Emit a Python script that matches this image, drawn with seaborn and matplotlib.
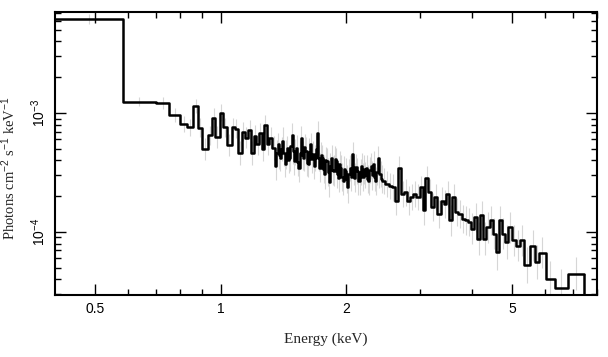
import numpy as np
import pandas as pd
import matplotlib
matplotlib.use("Agg")
import matplotlib.pyplot as plt
import matplotlib.ticker as mticker
import seaborn as sns

# --- spectrum data ---
# bin edges in keV
edges = [0.400, 0.582, 0.699, 0.753, 0.798, 0.830, 0.857, 0.883, 0.902, 0.934,
         0.954, 0.968, 0.994, 1.011, 1.033, 1.062, 1.080, 1.101, 1.125, 1.142,
         1.162, 1.182, 1.200, 1.218, 1.234, 1.253, 1.272, 1.288, 1.307, 1.327,
         1.350,
         1.359, 1.368, 1.377, 1.386, 1.395, 1.404, 1.413, 1.422, 1.431, 1.440,
         1.450, 1.459, 1.468, 1.478, 1.487, 1.497, 1.506, 1.516, 1.526, 1.536,
         1.546, 1.556, 1.566, 1.576, 1.586, 1.596, 1.606, 1.617, 1.627, 1.638,
         1.648, 1.659, 1.670, 1.681, 1.691, 1.702, 1.713, 1.725, 1.736, 1.747,
         1.758, 1.770, 1.781, 1.792, 1.804, 1.816, 1.827, 1.839, 1.851, 1.863,
         1.875, 1.887, 1.899, 1.911, 1.923, 1.936, 1.948, 1.961, 1.974, 1.987,
         2.000, 2.012, 2.025, 2.039, 2.052, 2.065, 2.078, 2.092, 2.105, 2.119,
         2.132, 2.146, 2.160, 2.174, 2.188, 2.203, 2.217, 2.231, 2.245, 2.260,
         2.274, 2.289, 2.304, 2.319, 2.334, 2.349, 2.364, 2.379, 2.394, 2.410,
         2.426, 2.442,
         2.484, 2.527, 2.571, 2.615, 2.661, 2.707, 2.754, 2.802, 2.850, 2.900,
         2.949, 3.001, 3.052, 3.092, 3.145, 3.200, 3.255, 3.311, 3.369, 3.427,
         3.471, 3.532, 3.593, 3.655, 3.718, 3.783, 3.848, 3.915, 3.983, 4.052,
         4.122, 4.193, 4.266, 4.340, 4.415, 4.491, 4.569, 4.648, 4.728, 4.810,
         4.894, 5.000, 5.109, 5.219, 5.356, 5.519, 5.688, 5.800, 6.020, 6.330,
         6.800, 7.437]

# photons cm^-2 s^-1 keV^-1, one per bin
flux = [6.19e-3, 1.25e-3, 1.21e-3, 9.7e-4, 8.1e-4, 7.6e-4, 1.14e-3, 7.5e-4, 5.0e-4, 6.5e-4,
        9.1e-4, 6.3e-4, 1.01e-3, 7.6e-4, 5.4e-4, 7.6e-4, 7.4e-4, 4.64e-4, 7.0e-4, 6.2e-4,
        7.26e-4, 4.64e-4, 6.4e-4, 5.45e-4, 6.8e-4, 4.95e-4, 8.0e-4, 5.45e-4, 6.2e-4, 5.1e-4,
        # dense part 1.35 - 2.44 keV
        3.59e-4, 4.6e-4, 5.45e-4, 4.4e-4, 4.22e-4, 5.0e-4, 5.8e-4, 4.6e-4, 3.71e-4, 4.5e-4,
        5.1e-4, 4.0e-4, 4.22e-4, 5.3e-4, 6.6e-4, 4.8e-4, 3.96e-4, 4.7e-4, 5.1e-4, 3.9e-4,
        3.48e-4, 4.6e-4, 6.2e-4, 4.4e-4, 4.22e-4, 5.2e-4, 4.79e-4, 3.8e-4, 3.71e-4, 4.7e-4,
        5.45e-4, 4.1e-4, 4.5e-4, 3.6e-4, 4.22e-4, 5.0e-4, 6.8e-4, 4.2e-4, 3.48e-4, 4.4e-4,
        4.22e-4, 3.4e-4, 3.06e-4, 4.0e-4, 3.96e-4, 3.2e-4, 2.61e-4, 3.6e-4, 4.22e-4, 3.3e-4,
        3.27e-4, 4.1e-4, 3.96e-4, 3.1e-4, 2.87e-4, 3.7e-4, 3.48e-4, 2.9e-4, 2.69e-4, 3.4e-4,
        3.27e-4, 2.8e-4, 2.37e-4, 3.1e-4, 3.48e-4, 2.9e-4, 4.5e-4, 3.3e-4, 2.87e-4, 3.5e-4,
        3.27e-4, 2.7e-4, 2.69e-4, 3.2e-4, 3.59e-4, 2.9e-4, 3.37e-4, 3.0e-4, 3.48e-4, 2.8e-4,
        2.69e-4, 3.3e-4, 3.59e-4, 3.0e-4, 3.71e-4, 2.9e-4, 2.69e-4, 3.2e-4, 4.22e-4, 3.1e-4,
        3.06e-4, 2.8e-4,
        # 2.44 keV upward
        2.69e-4, 2.53e-4, 2.45e-4, 2.37e-4, 1.84e-4, 3.48e-4, 2.09e-4, 2.15e-4, 1.84e-4, 1.96e-4,
        2.09e-4, 1.96e-4, 2.37e-4, 1.52e-4, 2.87e-4, 2.15e-4, 1.62e-4, 1.96e-4, 1.42e-4, 1.84e-4,
        1.72e-4, 2.09e-4, 1.25e-4, 1.96e-4, 1.47e-4, 1.42e-4, 1.29e-4, 1.25e-4, 1.21e-4, 1.07e-4,
        1.33e-4, 8.8e-5, 1.38e-4, 8.8e-5, 1.10e-4, 1.25e-4, 9.7e-5, 6.8e-5, 1.25e-4, 9.7e-5,
        8.25e-5, 1.10e-4, 8.5e-5, 7.7e-5, 8.5e-5, 5.3e-5, 7.7e-5, 5.6e-5, 6.7e-5, 4.05e-5,
        3.35e-5, 4.45e-5]

# error bar half-length in dex, one per bin
err_dex = [0.04, 0.04, 0.05, 0.06, 0.07, 0.07, 0.06, 0.08, 0.09, 0.08,
           0.08, 0.09, 0.07, 0.08, 0.09, 0.08, 0.08, 0.10, 0.08, 0.09,
           0.08, 0.10, 0.09, 0.09, 0.08, 0.10, 0.08, 0.09, 0.09, 0.10,
           0.12, 0.11, 0.10, 0.11, 0.11, 0.10, 0.12, 0.11, 0.11, 0.12,
           0.10, 0.11, 0.11, 0.10, 0.10, 0.11, 0.12, 0.11, 0.11, 0.12,
           0.12, 0.10, 0.10, 0.12, 0.11, 0.11, 0.12, 0.11, 0.11, 0.12,
           0.10, 0.12, 0.11, 0.11, 0.11, 0.12, 0.10, 0.11, 0.12, 0.11,
           0.11, 0.12, 0.12, 0.11, 0.11, 0.12, 0.12, 0.11, 0.11, 0.12,
           0.13, 0.11, 0.11, 0.12, 0.12, 0.11, 0.11, 0.12, 0.12, 0.11,
           0.11, 0.12, 0.13, 0.12, 0.11, 0.12, 0.10, 0.12, 0.12, 0.11,
           0.11, 0.12, 0.12, 0.11, 0.11, 0.12, 0.12, 0.11, 0.11, 0.12,
           0.12, 0.11, 0.11, 0.12, 0.11, 0.12, 0.12, 0.11, 0.10, 0.12,
           0.11, 0.12,
           0.11, 0.11, 0.11, 0.11, 0.12, 0.10, 0.11, 0.11, 0.12, 0.11,
           0.11, 0.11, 0.10, 0.12, 0.10, 0.11, 0.12, 0.11, 0.12, 0.11,
           0.12, 0.11, 0.13, 0.11, 0.12, 0.12, 0.12, 0.12, 0.12, 0.13,
           0.12, 0.14, 0.12, 0.14, 0.13, 0.12, 0.13, 0.15, 0.12, 0.13,
           0.14, 0.13, 0.13, 0.13, 0.13, 0.15, 0.13, 0.14, 0.13, 0.15,
           0.16, 0.14]

x_major = [0.5, 1, 2, 5]
x_major_labels = ["0.5", "1", "2", "5"]
x_minor = [0.6, 0.7, 0.8, 0.9, 3, 4, 6, 7, 8]

sns.set_theme(style="ticks")
plt.rcParams["font.family"] = ["Liberation Sans", "DejaVu Sans"]
plt.rcParams["mathtext.fontset"] = "custom"
plt.rcParams["mathtext.rm"] = "Liberation Sans"
plt.rcParams["mathtext.it"] = "Liberation Sans:italic"

fig = plt.figure(figsize=(6.08, 3.57), dpi=100)
ax = fig.add_axes([0.0905, 0.174, 0.8915, 0.792])

# error bars at bin centres (light grey)
edges_a = np.array(edges)
flux_a = np.array(flux)
err_a = np.array(err_dex)
centres = np.sqrt(edges_a[:-1] * edges_a[1:])
ax.vlines(centres, flux_a / 10 ** err_a, flux_a * 10 ** err_a,
          color="#d6d6d6", lw=0.8, zorder=1)

# step spectrum
df = pd.DataFrame({"energy": edges, "flux": flux + [flux[-1]]})
sns.lineplot(data=df, x="energy", y="flux", drawstyle="steps-post",
             estimator=None, sort=False, color="black", lw=1.8, ax=ax, zorder=3)
ax.vlines(edges[-1], 1e-6, flux[-1], color="black", lw=1.8, zorder=3)

ax.set_xscale("log")
ax.set_yscale("log")
ax.set_xlim(0.4, 8.0)
ax.set_ylim(2.96e-5, 7.06e-3)

ax.xaxis.set_major_locator(mticker.FixedLocator(x_major))
ax.xaxis.set_major_formatter(mticker.FixedFormatter(x_major_labels))
ax.xaxis.set_minor_locator(mticker.FixedLocator(x_minor))
ax.xaxis.set_minor_formatter(mticker.NullFormatter())

ax.yaxis.set_major_locator(mticker.FixedLocator([1e-4, 1e-3]))
ax.yaxis.set_major_formatter(mticker.LogFormatterMathtext())
ax.yaxis.set_minor_locator(mticker.LogLocator(base=10, subs=np.arange(2, 10), numticks=20))
ax.yaxis.set_minor_formatter(mticker.NullFormatter())

ax.tick_params(which="both", direction="in", top=True, right=True, width=1.0,
               colors="black", labelsize=10)
ax.tick_params(which="major", length=8, pad=5)
ax.tick_params(which="minor", length=4)
for lab in ax.get_yticklabels():
    lab.set_rotation(90)
    lab.set_va("center")

for sp in ax.spines.values():
    sp.set_linewidth(1.5)
    sp.set_color("black")

ax.set_xlabel("Energy (keV)", family=["Liberation Serif", "DejaVu Serif"], fontsize=11,
              labelpad=12)
ax.set_ylabel(r"Photons cm$^{-2}$ s$^{-1}$ keV$^{-1}$",
              family=["Liberation Serif", "DejaVu Serif"], fontsize=10.5)
ax.yaxis.set_label_coords(-0.068, 0.45)

fig.savefig("out.png", dpi=100)
